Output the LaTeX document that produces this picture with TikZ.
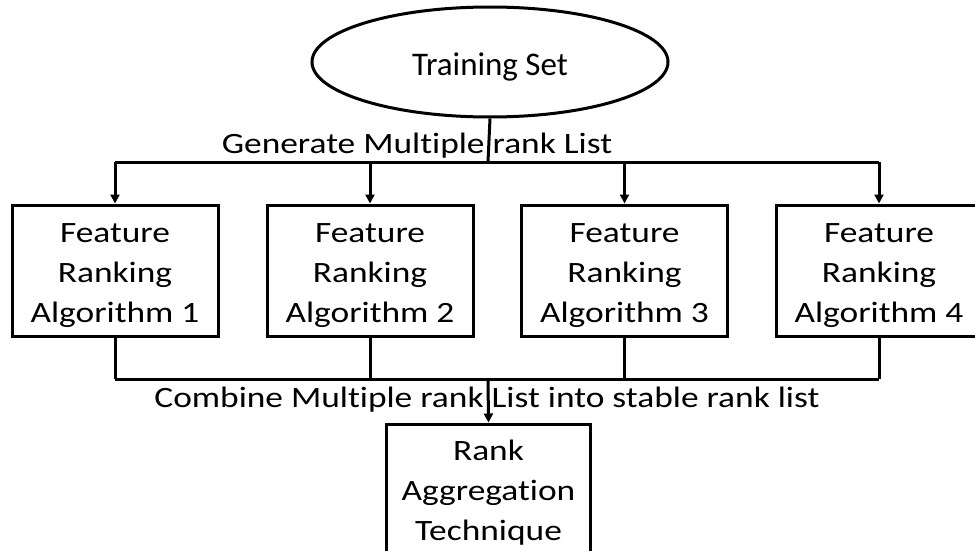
\documentclass[tikz,border=0pt]{standalone}
\usepackage{fontspec}
\setmainfont{Carlito}[Ligatures=NoCommon]
\newfontfamily\widefont{Carlito}[FakeStretch=1.2,Ligatures=NoCommon]
\usetikzlibrary{shapes.geometric,arrows.meta}
\tikzset{
  every picture/.style={x=1pt,y=-1pt},
  line/.style={line width=3pt},
  arr/.style={line width=3pt,-{Triangle[length=9pt,width=9pt]}},
  algbox/.style={draw,line width=3pt,rectangle,minimum width=206pt,minimum height=131pt,inner sep=0pt},
  boxtext/.style={align=center,inner sep=0pt,yshift=-5pt,font=\widefont\fontsize{29.5}{40}\selectfont},
  lbl/.style={anchor=base,inner sep=0pt,font=\widefont\fontsize{29.5}{40}\selectfont}
}
\begin{document}
\begin{tikzpicture}
\useasboundingbox (0,0) rectangle (975,551);
\fill[white] (0,0) rectangle (975,551);
\node[draw,ellipse,line width=3pt,minimum width=356pt,minimum height=110pt,inner sep=0pt,
  label={[inner sep=0pt,yshift=-5pt,font=\fontsize{33}{40}\selectfont]center:Training Set}] (ts) at (490,62) {};
\node[algbox,label={[boxtext]center:{Feature\\Ranking\\Algorithm 1}}] (a1) at (115,270.5) {};
\node[algbox,label={[boxtext]center:{Feature\\Ranking\\Algorithm 2}}] (a2) at (370,270.5) {};
\node[algbox,label={[boxtext]center:{Feature\\Ranking\\Algorithm 3}}] (a3) at (624.5,270.5) {};
\node[algbox,label={[boxtext]center:{Feature\\Ranking\\Algorithm 4}}] (a4) at (879,270.5) {};
\node[algbox,minimum width=204pt,label={[boxtext,yshift=2pt]center:{Rank\\Aggregation\\Technique}}] (ra) at (488.5,489.5) {};
\node[lbl] (g) at (417,153) {Generate Multiple rank List};
\node[lbl] (c) at (487,407) {Combine Multiple rank List into stable rank list};
\coordinate (top) at (488,162);
\coordinate (bot) at (488,379);
\draw[line] (ts.south) -- (top);
\draw[line] (a1.north |- top) -- (a4.north |- top);
\foreach \n in {a1,a2,a3,a4}{
  \draw[arr] (\n.north |- top) -- (\n.north);
  \draw[line] (\n.south) -- (\n.south |- bot);
}
\draw[line] (a1.south |- bot) -- (a4.south |- bot);
\draw[arr] (bot) -- (ra.north);
\end{tikzpicture}
\end{document}
